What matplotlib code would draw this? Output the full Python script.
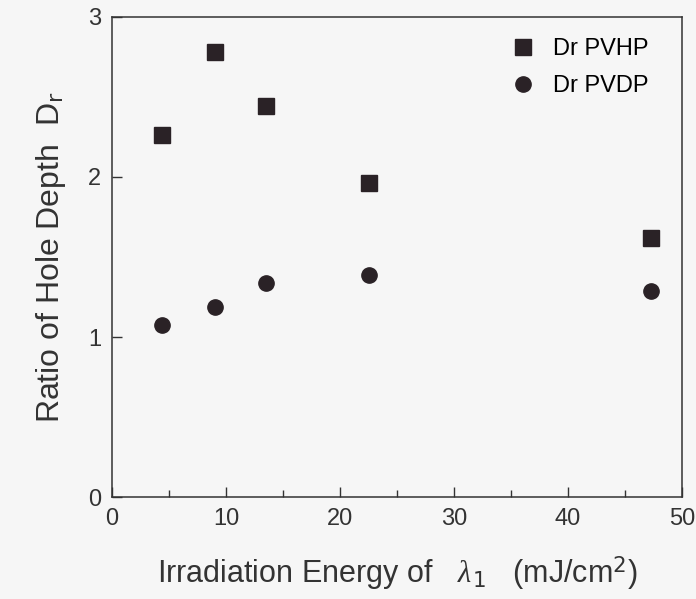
import numpy as np
import matplotlib.pyplot as plt

# values
energy = [4.4, 9.0, 13.5, 22.5, 47.3]
dr_pvhp = [2.26, 2.78, 2.44, 1.96, 1.62]
dr_pvdp = [1.075, 1.19, 1.34, 1.39, 1.29]

plt.rcParams['font.family'] = ['Liberation Sans', 'DejaVu Sans']
plt.rcParams['mathtext.fontset'] = 'custom'
plt.rcParams['mathtext.rm'] = 'Liberation Sans'
plt.rcParams['mathtext.it'] = 'Liberation Serif:italic'

fig = plt.figure(figsize=(6.96, 5.99), dpi=100, facecolor='#f6f6f6')
ax = fig.add_axes([0.161, 0.170, 0.819, 0.802])
ax.set_facecolor('#f6f6f6')

ink = '#2a2226'
ax.plot(energy, dr_pvhp, 's', ms=11, color=ink, label='Dr PVHP')
ax.plot(energy, dr_pvdp, 'o', ms=11, color=ink, label='Dr PVDP')

ax.set_xlim(0, 50)
ax.set_ylim(0, 3)
ax.set_xticks([0, 10, 20, 30, 40, 50])
ax.set_xticks([5, 15, 25, 35, 45], minor=True)
ax.set_yticks([0, 1, 2, 3])
ax.tick_params(direction='in', length=7, width=1, colors='#333', labelsize=17, pad=8)
ax.tick_params(which='minor', direction='in', length=5, width=1, colors='#333')
for s in ax.spines.values():
    s.set_color('#333')
    s.set_linewidth(1.1)

ax.set_xlabel(r'Irradiation Energy of   $\mathit{\lambda}_{\,\mathsf{1}}$   (mJ/cm$^{\mathsf{2}}$)',
              fontsize=22, color='#333', labelpad=18)
ax.set_ylabel(r'Ratio of Hole Depth  D$_{\mathsf{r}}$', fontsize=23, color='#333', labelpad=14)

ax.legend(loc='upper right', frameon=False, fontsize=17, handletextpad=0.3,
          borderaxespad=0.4, labelspacing=0.65, bbox_to_anchor=(0.975, 0.995))

plt.savefig('out.png', dpi=100, facecolor=fig.get_facecolor())
